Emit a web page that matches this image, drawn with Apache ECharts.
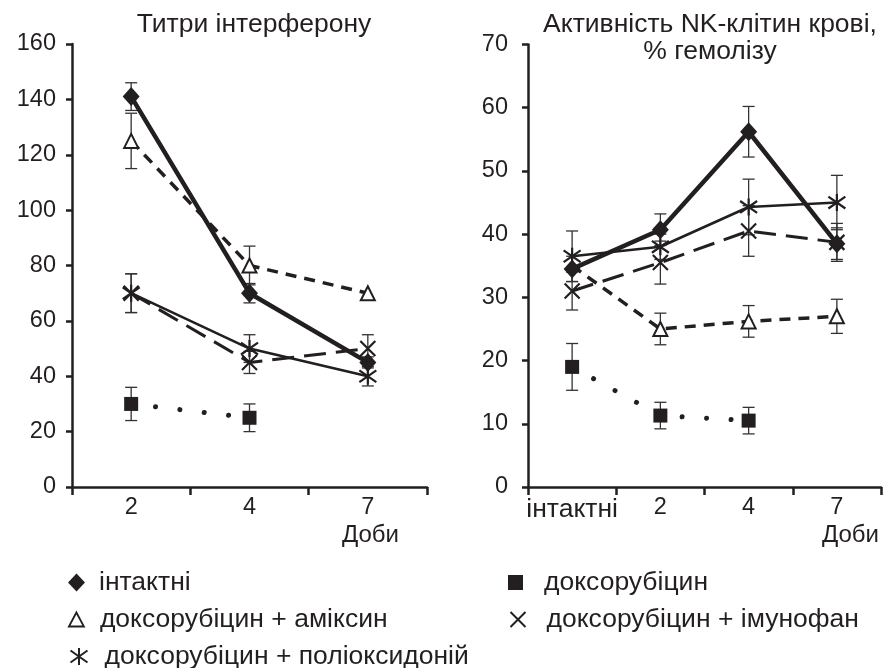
<!DOCTYPE html>
<html><head><meta charset="utf-8">
<script src="https://cdn.jsdelivr.net/npm/echarts@6/dist/echarts.min.js"></script>
<style>html,body{margin:0;padding:0;background:#fff}#c{width:893px;height:668px}</style>
</head><body><div id="c"></div>
<script>
// ---- data ----
const catsL = ['2', '4', '7'];
const catsR = ['інтактні', '2', '4', '7'];
const names = ['інтактні', 'доксорубіцин', 'доксорубіцин + аміксин', 'доксорубіцин + імунофан', 'доксорубіцин + поліоксидоній'];
// left: Титри інтерферону
const intactL = [141, 70, 45];
const intactErrL = [5, 3.5, 2];
const doxL = [30, 25, null];
const doxErrL = [6, 5, null];
const amixL = [125, 80, 70];
const amixErrL = [10, 7, 0];
const imunL = [70, 45, 50];
const imunErrL = [7, 4, 5];
const polyL = [70, 50, 40];
const polyErrL = [7, 5, 3.5];
// right: Активність NK-клітин
const intactR = [34.5, 40.7, 56.2, 38.5];
const intactErrR = [2, 2.5, 4, 2.5];
const doxR = [19, 11.3, 10.5, null];
const doxErrR = [3.7, 2.1, 2.1, null];
const amixR = [35, 25, 26.2, 27];
const amixErrR = [null, 2.5, 2.5, 2.7];
const imunR = [31, 35.5, 40.5, 38.7];
const imunErrR = [3, 3.4, 4, 3];
const polyR = [36.5, 38, 44.3, 45];
const polyErrR = [4, 2, 4.4, 4.3];

const INK = '#231f20';
const FONT = 'Liberation Sans, Arial, sans-serif';
const FT = 26.5;   // text
const FN = 23.5;   // numbers

const xSym = 'path://M0,0L10,10M10,0L0,10';
const astSym = 'path://M5,0L5,10M0,1.5L10,8.5M0,8.5L10,1.5';

const styles = [
  {symbol: 'diamond', symbolSize: [17, 19], itemStyle: {color: INK}, lineStyle: {color: INK, width: 4.5, type: 'solid'}},
  {symbol: 'rect', symbolSize: 14, itemStyle: {color: INK}, lineStyle: {color: INK, width: 5, type: [0.01, 24.5], cap: 'round'}},
  {symbol: 'triangle', symbolSize: 14, itemStyle: {color: '#fff', borderColor: INK, borderWidth: 2}, lineStyle: {color: INK, width: 3.5, type: [11, 8]}},
  {symbol: xSym, symbolSize: 15, itemStyle: {color: 'none', borderColor: INK, borderWidth: 2.2}, lineStyle: {color: INK, width: 3, type: [22, 10]}},
  {symbol: astSym, symbolSize: 17, itemStyle: {color: 'none', borderColor: INK, borderWidth: 2.2}, lineStyle: {color: INK, width: 2.6, type: 'solid'}}
];

function lineSeries(idx, data, gi, hideFirst) {
  const s = styles[idx];
  return {
    type: 'line', name: names[idx], xAxisIndex: gi, yAxisIndex: gi,
    data: data.map((v, i) => (hideFirst && i === 0) ? {value: v, symbolSize: 0} : v),
    symbol: s.symbol, symbolSize: s.symbolSize, showAllSymbol: true,
    itemStyle: s.itemStyle, lineStyle: s.lineStyle, z: 3, silent: true,
    connectNulls: false, animation: false
  };
}
function errSeries(vals, errs, gi) {
  const d = [];
  vals.forEach((v, i) => { if (v != null && errs[i]) d.push([i, v - errs[i], v + errs[i]]); });
  return {
    type: 'custom', xAxisIndex: gi, yAxisIndex: gi, z: 2, silent: true, animation: false,
    encode: {x: 0, y: [1, 2]}, data: d,
    renderItem: function (params, api) {
      const top = api.coord([api.value(0), api.value(2)]);
      const bot = api.coord([api.value(0), api.value(1)]);
      const w = 6;
      const st = {stroke: '#333', lineWidth: 1.3};
      return {type: 'group', children: [
        {type: 'line', shape: {x1: top[0], y1: top[1], x2: bot[0], y2: bot[1]}, style: st},
        {type: 'line', shape: {x1: top[0] - w, y1: top[1], x2: top[0] + w, y2: top[1]}, style: st},
        {type: 'line', shape: {x1: bot[0] - w, y1: bot[1], x2: bot[0] + w, y2: bot[1]}, style: st}
      ]};
    }
  };
}

const axisCommonX = {
  type: 'category', boundaryGap: true,
  axisLine: {lineStyle: {color: INK, width: 2.5}},
  axisTick: {show: true, length: 8, inside: false, lineStyle: {color: INK, width: 2.5}},
  axisLabel: {color: INK, fontSize: FN, fontFamily: FONT, margin: 9, interval: 0,
    formatter: v => /^\d+$/.test(v) ? v : '{t|' + v + '}',
    rich: {t: {fontSize: FT, fontFamily: FONT, color: INK}}},
  splitLine: {show: false}
};
const axisCommonY = {
  type: 'value', min: 0,
  axisLine: {show: true, lineStyle: {color: INK, width: 2.5}},
  axisTick: {show: true, length: 6, lineStyle: {color: INK, width: 2.5}},
  axisLabel: {color: INK, fontSize: FN, fontFamily: FONT},
  splitLine: {show: false}
};

const legendDefs = [
  {i: 0, left: 63, top: 564, icon: 'diamond', w: 17, h: 18, p: 9},
  {i: 1, left: 503, top: 564, icon: 'rect', w: 15, h: 15, p: 16},
  {i: 2, left: 63, top: 601, icon: 'triangle', w: 15, h: 14, p: 11},
  {i: 3, left: 503, top: 601, icon: xSym, w: 15, h: 15, p: 16},
  {i: 4, left: 63, top: 638, icon: astSym, w: 17, h: 17, p: 12}
];
const legendStyles = [
  {color: INK}, {color: INK},
  {color: '#fff', borderColor: INK, borderWidth: 1.8},
  {color: 'none', borderColor: INK, borderWidth: 2},
  {color: 'none', borderColor: INK, borderWidth: 2}
];

const option = {
  backgroundColor: '#fff',
  animation: false,
  textStyle: {fontFamily: FONT},
  title: [
    {text: 'Титри інтерферону', left: 249, top: 6, textAlign: 'center',
     textStyle: {fontSize: FT, fontWeight: 'normal', color: INK, fontFamily: FONT}},
    {text: 'Активність NK-клітин крові,\n% гемолізу', left: 705, top: 6, textAlign: 'center',
     textStyle: {fontSize: FT, fontWeight: 'normal', color: INK, fontFamily: FONT, lineHeight: 27, align: 'center'}}
  ],
  grid: [
    {left: 72, top: 44, width: 355, height: 443},
    {left: 528, top: 44.5, width: 353, height: 442.5}
  ],
  xAxis: [
    Object.assign({}, axisCommonX, {gridIndex: 0, data: catsL}),
    Object.assign({}, axisCommonX, {gridIndex: 1, data: catsR})
  ],
  yAxis: [
    Object.assign({}, axisCommonY, {gridIndex: 0, max: 160, interval: 20,
      axisLabel: Object.assign({}, axisCommonY.axisLabel, {margin: 16})}),
    Object.assign({}, axisCommonY, {gridIndex: 1, max: 70, interval: 10,
      axisLabel: Object.assign({}, axisCommonY.axisLabel, {margin: 20})})
  ],
  legend: legendDefs.map(d => ({
    show: true, left: d.left, top: d.top, orient: 'horizontal', selectedMode: false,
    itemWidth: d.w, itemHeight: d.h,
    textStyle: {fontSize: FT, color: INK, fontFamily: FONT, padding: [0, 0, 0, d.p]},
    data: [{name: names[d.i], icon: d.icon, itemStyle: legendStyles[d.i]}]
  })),
  graphic: [
    {type: 'text', left: 342, top: 523, style: {text: 'Доби', fontSize: 24, fill: INK, fontFamily: FONT}},
    {type: 'text', left: 822, top: 523, style: {text: 'Доби', fontSize: 24, fill: INK, fontFamily: FONT}}
  ],
  series: [
    errSeries(intactL, intactErrL, 0), errSeries(doxL, doxErrL, 0), errSeries(amixL, amixErrL, 0),
    errSeries(imunL, imunErrL, 0), errSeries(polyL, polyErrL, 0),
    errSeries(intactR, intactErrR, 1), errSeries(doxR, doxErrR, 1), errSeries(amixR, amixErrR, 1),
    errSeries(imunR, imunErrR, 1), errSeries(polyR, polyErrR, 1),
    lineSeries(4, polyL, 0), lineSeries(3, imunL, 0), lineSeries(2, amixL, 0), lineSeries(1, doxL, 0), lineSeries(0, intactL, 0),
    lineSeries(4, polyR, 1), lineSeries(3, imunR, 1), lineSeries(2, amixR, 1, true), lineSeries(1, doxR, 1), lineSeries(0, intactR, 1)
  ]
};
const chart = echarts.init(document.getElementById('c'), null, {renderer: 'canvas'});
chart.setOption(option);
</script>
</body></html>
